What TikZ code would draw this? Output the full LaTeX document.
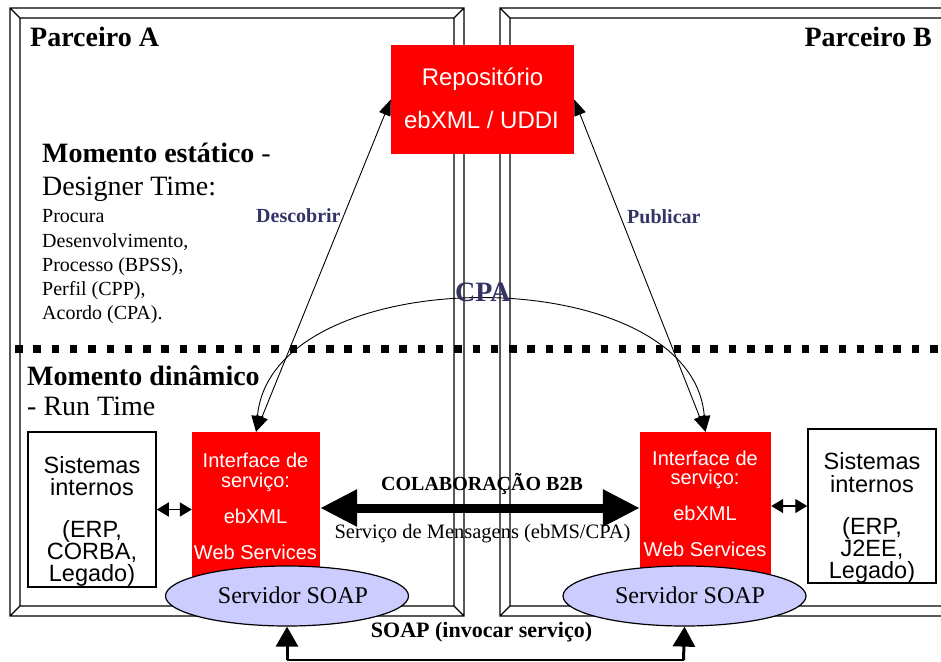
\documentclass[tikz,border=0pt]{standalone}
\usepackage{fontspec}
\setmainfont{Liberation Serif}
\newfontfamily\arialf{Liberation Sans}
\usetikzlibrary{arrows.meta,shapes.geometric}
\definecolor{ebred}{HTML}{FF0000}
\definecolor{soapfill}{HTML}{CCCCFF}
\definecolor{navy}{HTML}{333366}

\begin{document}
\begin{tikzpicture}[x=1pt,y=-1pt,
  frameline/.style={line width=1.3pt},
  redbox/.style={fill=ebred, draw=none, inner sep=0pt},
  sysbox/.style={draw, line width=1.5pt, fill=white, inner sep=0pt},
  soapell/.style={ellipse, draw, line width=1.2pt, fill=soapfill, inner sep=0pt,
                  minimum width=243pt, minimum height=60pt},
  lbl/.style={inner sep=0pt, anchor=base},
  lblw/.style={inner sep=0pt, anchor=base west},
  whitetxt/.style={lbl, text=white, font=\arialf\fontsize{20}{20}\selectfont},
  redtxt/.style={lbl, text=white, font=\arialf\fontsize{24}{24}\selectfont},
  systxt/.style={lbl, font=\arialf\fontsize{23.5}{23.5}\selectfont},
  thin arrow/.style={line width=0.9pt, {Triangle[length=16pt,width=12pt]}-{Triangle[length=16pt,width=12pt]}},
  small arrow/.style={line width=1.4pt, {Triangle[length=12pt,width=14pt]}-{Triangle[length=12pt,width=14pt]}},
  big arrow/.style={line width=9pt, {Triangle[length=37pt,width=35pt]}-{Triangle[length=37pt,width=35pt]}},
  stem arrow/.style={line width=3pt, -{Triangle[length=20pt,width=22pt]}}
]
\useasboundingbox (0,0) rectangle (941,661);
\clip (0,0) rectangle (941,661);

% bevelled partner frames
\draw[frameline] (10,8) rectangle (464,616) (20,18) rectangle (454,606)
  (10,8) -- (20,18) (464,8) -- (454,18) (10,616) -- (20,606) (464,616) -- (454,606);
\draw[frameline] (500,8) rectangle (962,616) (510,18) rectangle (952,606)
  (500,8) -- (510,18) (500,616) -- (510,606);

% static / dynamic separator
\draw[line width=7.5pt, dash pattern=on 7.5pt off 10.8pt] (15,349) -- (945,349);

% partner titles
\node[lblw, font=\bfseries\fontsize{28}{28}\selectfont] (pa) at (30,47) {Parceiro A};
\node[lbl, anchor=base east, font=\bfseries\fontsize{28}{28}\selectfont] (pb) at (932,47) {Parceiro B};

% static phase text
\node[lblw, font=\fontsize{28}{28}\selectfont] (mest) at (42,162) {\textbf{Momento estático} -};
\node[lblw, font=\fontsize{28}{28}\selectfont] (dtime) at (42,195) {Designer Time:};
\node[lblw, font=\fontsize{20}{20}\selectfont] (l1) at (42,222) {Procura};
\node[lblw, font=\fontsize{20}{20}\selectfont] (l2) at (42,247) {Desenvolvimento,};
\node[lblw, font=\fontsize{20}{20}\selectfont] (l3) at (42,271) {Processo (BPSS),};
\node[lblw, font=\fontsize{20}{20}\selectfont] (l4) at (42,295) {Perfil (CPP),};
\node[lblw, font=\fontsize{20}{20}\selectfont] (l5) at (42,319) {Acordo (CPA).};

% dynamic phase text
\node[lblw, font=\bfseries\fontsize{28}{28}\selectfont] (mdin) at (27,385) {Momento dinâmico};
\node[lblw, font=\fontsize{28}{28}\selectfont] (rtime) at (27,415) {- Run Time};

% repository
\node[redbox, minimum width=183pt, minimum height=109pt] (repo) at (482.5,99.5) {};
\node[redtxt] (repo1) at (482.5,85) {Repositório};
\node[redtxt] (repo2) at (481.5,128) {ebXML / UDDI};

% internal systems
\node[sysbox, minimum width=128pt, minimum height=155pt] (sisA) at (92,509.5) {};
\node[systxt] (sa1) at (92,473) {Sistemas};
\node[systxt] (sa2) at (92,495) {internos};
\node[systxt] (sa3) at (92,537) {(ERP,};
\node[systxt] (sa4) at (92,559) {CORBA,};
\node[systxt] (sa5) at (92,581) {Legado)};

\node[sysbox, minimum width=128pt, minimum height=154pt] (sisB) at (872,506) {};
\node[systxt] (sb1) at (872,469) {Sistemas};
\node[systxt] (sb2) at (872,492) {internos};
\node[systxt] (sb3) at (872,534) {(ERP,};
\node[systxt] (sb4) at (872,556) {J2EE,};
\node[systxt] (sb5) at (872,578) {Legado)};

% service interfaces
\node[redbox, minimum width=128pt, minimum height=148pt] (ifA) at (256,506) {};
\node[whitetxt] (ia1) at (255.5,467) {Interface de};
\node[whitetxt] (ia2) at (255.5,487) {serviço:};
\node[whitetxt] (ia3) at (255.5,523) {ebXML};
\node[whitetxt] (ia4) at (255.5,559) {Web Services};

\node[redbox, minimum width=131pt, minimum height=148pt] (ifB) at (705.5,506) {};
\node[whitetxt] (ib1) at (705,465) {Interface de};
\node[whitetxt] (ib2) at (705,484) {serviço:};
\node[whitetxt] (ib3) at (705,520) {ebXML};
\node[whitetxt] (ib4) at (705,556) {Web Services};

% SOAP servers
\node[soapell] (soapA) at (287,596) {};
\node[lbl, font=\fontsize{24}{24}\selectfont] (sta) at (293,603) {Servidor SOAP};
\node[soapell] (soapB) at (684.5,596) {};
\node[lbl, font=\fontsize{24}{24}\selectfont] (stb) at (690,603) {Servidor SOAP};

% discovery / publication
\draw[thin arrow] (ifA.north) -- (repo.west);
\draw[thin arrow] (ifB.north) -- (repo.east);
\node[lblw, text=navy, font=\bfseries\fontsize{20}{20}\selectfont] (desc) at (256,222) {Descobrir};
\node[lblw, text=navy, font=\bfseries\fontsize{20}{20}\selectfont] (pub) at (627,223) {Publicar};

% CPA agreement
\draw[thin arrow] (ifA.north) .. controls (272,258) and (692,258) .. (ifB.north);
\node[lblw, text=navy, font=\bfseries\fontsize{28}{28}\selectfont] (cpa) at (455,301) {CPA};

% local connections
\draw[small arrow] (sisA.east) -- (ifA.west |- sisA.east);
\draw[small arrow] (ifB.east) -- (sisB.west |- ifB.east);

% B2B collaboration
\draw[big arrow] ([yshift=-2pt]ifA.east) -- ([yshift=-2pt]ifB.west);
\node[lbl, font=\bfseries\fontsize{20}{20}\selectfont] (colab) at (482,490) {COLABORAÇÃO B2B};
\node[lbl, font=\fontsize{20.5}{20.5}\selectfont] (msg) at (482.5,538) {Serviço de Mensagens (ebMS/CPA)};

% SOAP invocation
\coordinate (botA) at (287,660);
\coordinate (botB) at (683.5,660);
\draw[line width=1.5pt] (botA) -- (botB);
\draw[stem arrow] (botA) -- (soapA.south);
\draw[stem arrow] (botB) -- (soapB.south);
\node[lbl, font=\bfseries\fontsize{22}{22}\selectfont] (soapinv) at (481.5,637) {SOAP (invocar serviço)};
\end{tikzpicture}
\end{document}
